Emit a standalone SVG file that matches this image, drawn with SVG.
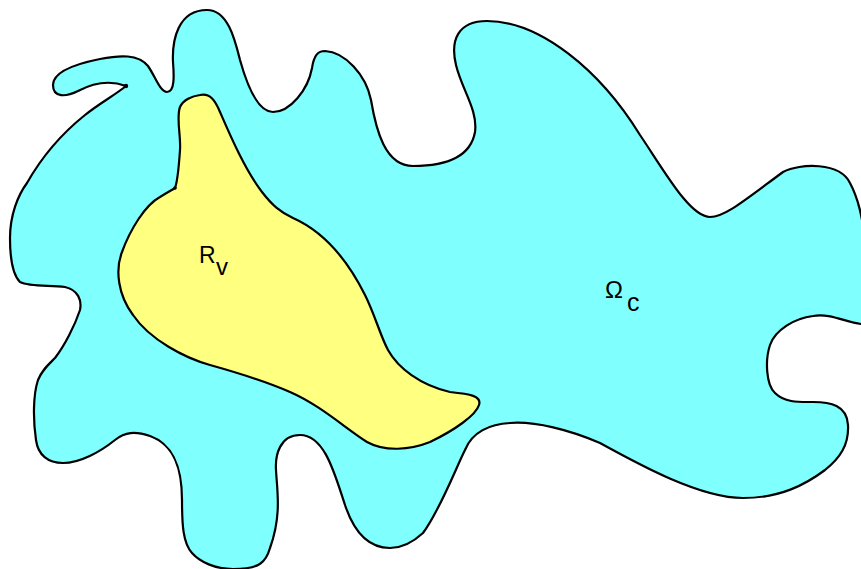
<svg xmlns="http://www.w3.org/2000/svg" width="861" height="569" viewBox="0 0 861 569">
<style>
.outline{stroke:#000;stroke-width:2.2;stroke-linejoin:round}
.lbl{font-family:"Liberation Sans",Arial,sans-serif;fill:#000}
</style>
<rect width="861" height="569" fill="#fff"/>
<g id="omega-c">
<path class="outline" fill="#80ffff" d="M126,86 C110,80 95,82 78,91 C66,97 53,98 53,85 C53,72 75,64 100,59 C120,55 138,54 148,66 C155,76 160,92 167,92 C175,92 174,75 173,62 C172,40 178,10 207,10 C228,10 235,40 240,60 C247,85 258,112 273,112 C290,112 308,90 312,68 C314,55 318,51 325,51 C345,52 366,75 371,100 C376,130 385,166 413,166 C440,166 470,160 475,132 C478,110 462,90 456,65 C450,40 458,21 487,21 C540,21 600,70 640,135 C665,172 690,217 710,217 C725,217 745,200 783,172 C800,163 840,162 850,183 C858,198 862,215 866,245 C869,280 870,325 861,324 C845,322 830,313 813,316 C795,318 775,330 770,345 C765,360 766,385 775,393 C785,403 800,402 813,402 C830,402 847,405 848,425 C849,445 840,458 825,470 C805,485 780,498 743,498 C700,498 640,465 600,443 C570,430 535,421 510,423 C490,424 472,432 465,450 C455,470 440,510 423,533 C410,545 400,548 390,548 C370,548 355,535 345,505 C335,475 325,435 300,435 C280,435 275,455 276,470 C277,490 282,515 270,548 C266,562 260,569 233,569 C215,569 200,562 192,553 C183,543 182,525 182,500 C182,470 175,445 150,436 C135,431 125,432 115,440 C100,452 80,463 63,463 C48,463 38,455 36,440 C33,420 33,395 38,380 C42,370 48,365 55,358 C65,345 75,325 80,310 C82,300 78,290 65,287 C50,285 30,287 20,282 C13,275 10,258 10,238 C10,215 18,195 27,183 C40,160 60,135 85,115 C100,103 115,95 126,86 Z"/>
<circle cx="126" cy="86" r="2.2" fill="#000"/>
<text class="lbl" x="605" y="298" font-size="24">Ω</text>
<text class="lbl" x="627" y="311" font-size="25">c</text>
</g>
<g id="r-v">
<path class="outline" fill="#ffff80" d="M200,95 C210,93 215,100 220,112 C230,135 245,170 262,192 C272,205 280,212 293,218 C320,230 345,255 365,295 C375,315 380,335 388,350 C398,368 420,385 450,392 C470,394 482,396 479,405 C476,415 455,430 430,442 C410,450 385,452 367,442 C345,428 320,405 290,392 C265,381 235,372 210,365 C185,358 150,340 133,315 C118,295 115,270 122,252 C130,230 145,205 160,197 C168,192 172,190 175,188 C178,180 179,165 180,150 C181,135 176,118 180,107 C183,100 192,96 200,95 Z"/>
<circle cx="175" cy="188" r="1.8" fill="#000"/>
<text class="lbl" x="199" y="263" font-size="23">R</text>
<text class="lbl" x="216" y="275" font-size="24">v</text>
</g>
</svg>
